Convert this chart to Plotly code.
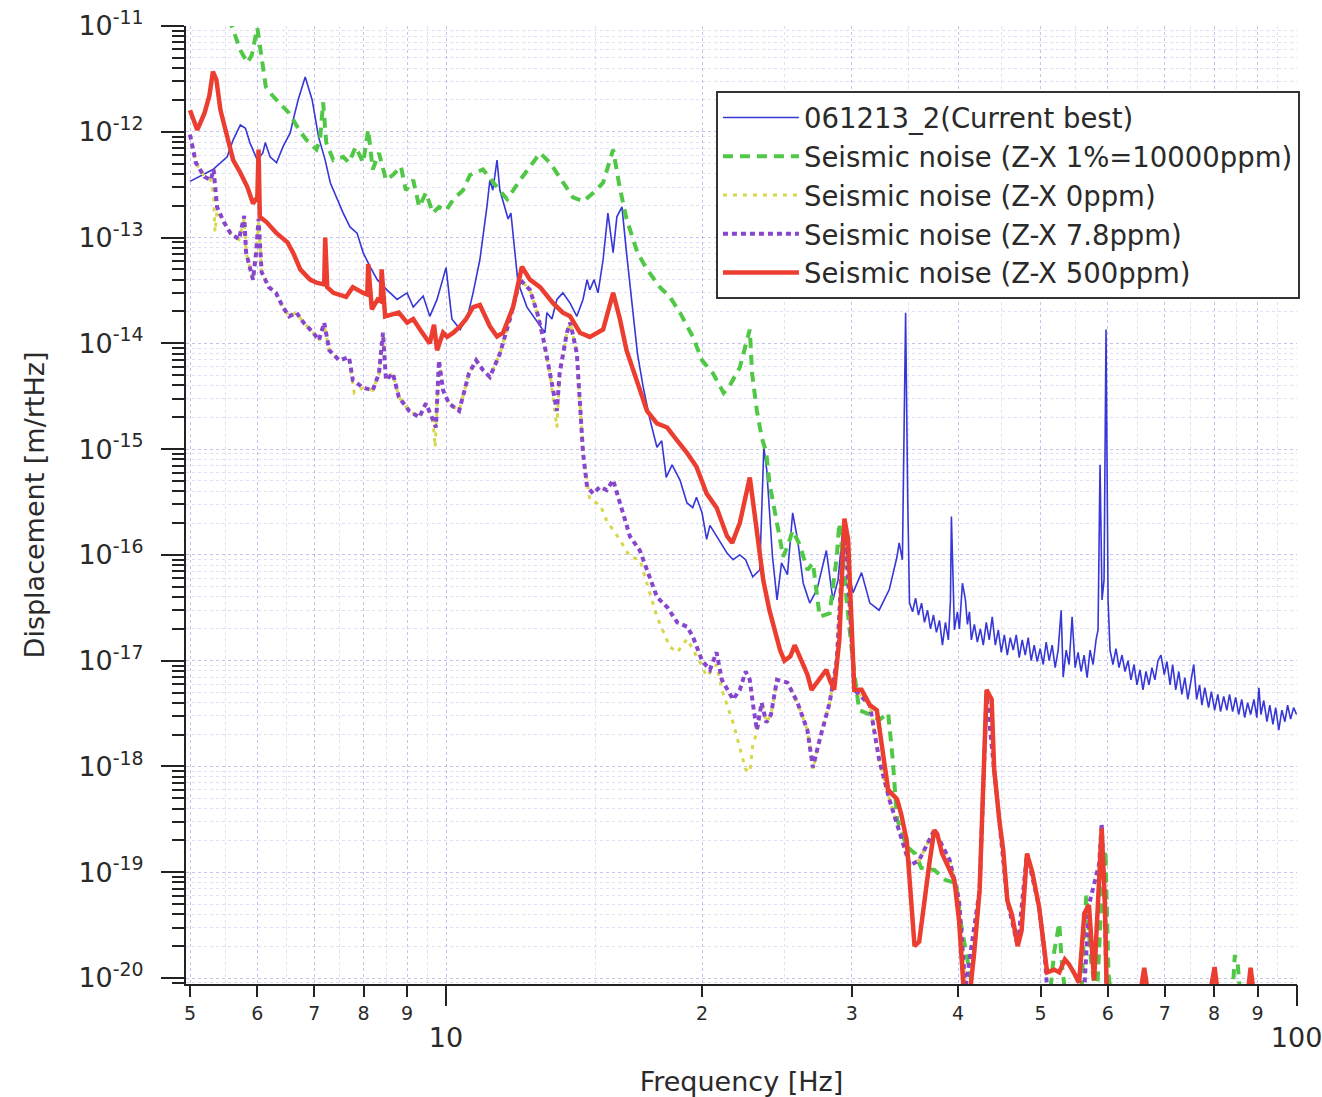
import math
import plotly.graph_objects as go

# ---------------- data ----------------
blue_freq = [5.0, 5.14, 5.32, 5.53, 5.62, 5.73, 5.81, 5.88, 6.0, 6.09,
             6.13, 6.21, 6.32, 6.43, 6.56, 6.61, 6.70, 6.83, 6.96, 7.08,
             7.21, 7.31, 7.45, 7.57, 7.71, 7.86, 7.99, 8.14, 8.30, 8.52,
             8.76, 9.0, 9.15, 9.40, 9.57, 9.76, 10.0, 10.16, 10.39, 10.6,
             10.76, 10.96, 11.17, 11.26, 11.35, 11.48, 11.57, 11.73, 11.83, 11.92,
             12.05, 12.15, 12.45, 12.66, 12.9, 13.07, 13.14, 13.32, 13.5, 13.72,
             13.99, 14.25, 14.49, 14.65, 14.76, 14.93, 15.09, 15.3, 15.5, 15.63,
             15.72, 15.88, 16.1, 16.3, 16.5, 16.79, 17.06, 17.37, 17.7, 17.93,
             18.15, 18.44, 18.84, 19.2, 19.5, 19.7, 20.0, 20.25, 20.43, 20.82,
             21.4, 21.75, 22.15, 22.5, 22.94, 23.38, 23.64, 23.83, 24.2, 24.5,
             24.8, 25.2, 25.56, 25.9, 26.3, 26.77, 27.3, 28.0, 28.5, 28.9,
             29.3, 29.7, 30.1, 30.8, 31.5, 32.3, 33.2, 33.9, 34.1, 34.4,
             34.7, 34.9,
             35.07, 35.36, 35.65, 35.93, 36.23, 36.52, 36.82, 37.12, 37.42, 37.72,
             38.03, 38.34, 38.65, 38.96, 39.18, 39.28, 39.6, 39.92, 40.14, 40.47,
             40.8, 41.02, 41.24, 41.46, 41.8, 42.14, 42.48, 42.82, 43.17, 43.52,
             43.87, 44.24, 44.6, 44.96, 45.33, 45.7, 46.06, 46.44, 46.82, 47.2,
             47.58, 47.97, 48.36, 48.75, 49.15, 49.55, 49.95, 50.36, 50.77, 51.18,
             51.6, 52.02, 52.44, 52.87, 53.16, 53.59, 54.02, 54.46, 54.91, 55.35,
             55.8, 56.26, 56.72, 57.17, 57.64, 58.11, 58.42, 58.74, 59.06, 59.38,
             59.7, 60.03, 60.35, 60.83, 61.33, 61.84, 62.34, 62.85, 63.36, 63.87,
             64.4, 64.92, 65.45, 65.98, 66.52, 67.06, 67.6, 68.15, 68.71, 69.27,
             69.9, 70.4, 71.0, 71.5, 72.1, 72.7, 73.3, 73.9, 74.5, 75.1,
             75.7, 76.3, 76.9, 77.4, 78.0, 78.8, 79.4, 80.1, 80.8, 81.4,
             82.1, 82.8, 83.4, 84.1, 84.8, 85.5, 86.2, 86.9, 87.6, 88.3,
             89.1, 89.8, 90.3, 90.8, 91.5, 92.3, 93.0, 93.8, 94.5, 95.3,
             96.1, 96.9, 97.6, 98.4, 99.2, 100.0]
blue_disp = [3.4e-13, 3.8e-13, 4.4e-13, 5.8e-13, 8.4e-13, 1.16e-12, 1.08e-12, 7.9e-13, 5.4e-13, 6.3e-13,
             7.9e-13, 5.8e-13, 5.1e-13, 7.2e-13, 9.8e-13, 1.29e-12, 2.0e-12, 3.3e-12, 2.0e-12, 9.0e-13,
             5.4e-13, 3.3e-13, 2.3e-13, 1.7e-13, 1.26e-13, 1.1e-13, 7.2e-14, 5.3e-14, 4.0e-14, 3.2e-14,
             2.6e-14, 3.0e-14, 2.2e-14, 2.8e-14, 1.8e-14, 2.6e-14, 5.2e-14, 1.7e-14, 1.35e-14, 1.8e-14,
             3.0e-14, 6.2e-14, 1.95e-13, 3.5e-13, 2.8e-13, 5.4e-13, 2.8e-13, 1.95e-13, 1.5e-13, 1.7e-13,
             7.7e-14, 3.75e-14, 2.2e-14, 1.8e-14, 1.45e-14, 1.26e-14, 1.95e-14, 1.7e-14, 2.6e-14, 3.0e-14,
             2.4e-14, 1.8e-14, 2.6e-14, 4.0e-14, 3.2e-14, 4.0e-14, 3.0e-14, 6.2e-14, 1.7e-13, 1.06e-13,
             7.2e-14, 1.57e-13, 1.95e-13, 7.2e-14, 3.0e-14, 8.0e-15, 3.8e-15, 1.9e-15, 1.04e-15, 1.2e-15,
             5.4e-16, 7.1e-16, 5.1e-16, 3.1e-16, 2.8e-16, 3.5e-16, 2.5e-16, 1.4e-16, 1.9e-16, 1.5e-16,
             1.04e-16, 9.0e-17, 1.0e-16, 9.0e-17, 6.2e-17, 7.2e-17, 1.04e-15, 6.3e-16, 9.6e-17, 3.75e-17,
             8.4e-17, 6.5e-17, 2.5e-16, 1.4e-16, 5.4e-17, 3.5e-17, 4.7e-17, 1.1e-16, 3.75e-17, 5.8e-17,
             1.9e-16, 7.2e-17, 4.4e-17, 6.8e-17, 3.5e-17, 3.0e-17, 4.7e-17, 9.6e-17, 1.3e-16, 9.0e-17,
             1.95e-14, 3.3e-16,
             3.5e-17, 2.9e-17, 3.9e-17, 2.7e-17, 3.5e-17, 2.3e-17, 3.0e-17, 2.0e-17, 2.7e-17, 1.85e-17,
             2.4e-17, 1.4e-17, 2.3e-17, 1.57e-17, 3.75e-17, 2.3e-16, 1.95e-17, 2.9e-17, 2.0e-17, 5.4e-17,
             3.75e-17, 2.2e-17, 2.9e-17, 1.57e-17, 2.2e-17, 1.5e-17, 2.0e-17, 1.4e-17, 2.3e-17, 1.57e-17,
             2.6e-17, 1.4e-17, 1.95e-17, 1.2e-17, 1.75e-17, 1.13e-17, 1.65e-17, 1.26e-17, 1.75e-17, 1.07e-17,
             1.57e-17, 1.13e-17, 1.65e-17, 1.0e-17, 1.4e-17, 9.8e-18, 1.3e-17, 9.2e-18, 1.5e-17, 1.0e-17,
             1.4e-17, 8.6e-18, 1.26e-17, 3.0e-17, 7.0e-18, 1.26e-17, 9.2e-18, 2.6e-17, 8.6e-18, 1.2e-17,
             7.9e-18, 1.13e-17, 6.9e-18, 1.26e-17, 9.2e-18, 1.57e-17, 1.95e-17, 7.1e-16, 3.75e-17, 5.8e-17,
             1.35e-14, 3.75e-17, 1.26e-17, 9.2e-18, 1.3e-17, 8.6e-18, 1.13e-17, 7.9e-18, 1.0e-17, 6.6e-18,
             9.2e-18, 5.9e-18, 8.2e-18, 5.3e-18, 7.9e-18, 5.9e-18, 8.6e-18, 6.6e-18, 1.0e-17, 1.13e-17,
             7.4e-18, 9.8e-18, 5.9e-18, 9.2e-18, 5.3e-18, 7.9e-18, 4.8e-18, 6.9e-18, 4.3e-18, 6.3e-18,
             9.2e-18, 4.3e-18, 5.9e-18, 3.8e-18, 5.55e-18, 3.6e-18, 5.1e-18, 3.4e-18, 4.8e-18, 3.3e-18,
             4.6e-18, 3.4e-18, 4.8e-18, 3.3e-18, 4.5e-18, 3.1e-18, 4.3e-18, 2.9e-18, 4.0e-18, 3.1e-18,
             4.3e-18, 2.9e-18, 5.55e-18, 3.1e-18, 4.2e-18, 2.65e-18, 3.8e-18, 2.5e-18, 3.6e-18, 2.2e-18,
             3.4e-18, 2.65e-18, 3.8e-18, 2.8e-18, 3.6e-18, 3.1e-18]

green_freq = [5.0, 5.4, 5.6, 5.73, 5.84, 5.91, 6.0, 6.03, 6.14, 6.25,
              6.36, 6.54, 6.72, 6.85, 7.04, 7.11, 7.17, 7.23, 7.37, 7.57,
              7.69, 7.83, 7.99, 8.1, 8.2, 8.34, 8.5, 8.66, 8.85, 8.97,
              9.15, 9.3, 9.47, 9.65, 9.81, 10.0, 10.2, 10.47, 10.67, 11.05,
              11.48, 11.8, 12.22, 12.55, 12.9, 13.25, 13.72, 14.1, 14.5, 14.9,
              15.3, 15.72, 16.0, 16.3, 16.79, 17.23, 17.84, 18.33, 18.84, 19.5,
              20.0, 20.6, 21.2, 21.56, 22.15, 22.76, 22.9, 23.2, 23.5, 23.8,
              24.0, 24.5, 24.7, 24.9, 25.2, 25.56, 26.05, 26.6, 27.0, 27.5,
              28.25, 28.8, 29.0, 29.3, 29.6, 30.1, 30.6, 31.5, 32.3, 33.1,
              33.5, 33.9, 34.8, 35.6, 36.2, 37.5, 38.7, 39.8, 40.3, 40.9,
              41.4, 41.9, 51.2, 51.9, 52.6, 53.0, 53.6, 55.8, 56.3, 56.6,
              57.3, 58.2, 59.2, 59.6, 60.1, 60.6, 84.0, 84.6, 85.3, 86.0,
              100.0]
green_disp = [2.5e-11, 1.4e-11, 1.0e-11, 5.9e-12, 4.5e-12, 5.3e-12, 9.6e-12, 7.4e-12, 2.65e-12, 2.2e-12,
              1.9e-12, 1.5e-12, 1.04e-12, 8.4e-13, 6.8e-13, 8.4e-13, 1.9e-12, 7.9e-13, 5.4e-13, 5.8e-13,
              5.1e-13, 7.2e-13, 5.1e-13, 1.05e-12, 4.4e-13, 6.3e-13, 3.5e-13, 3.9e-13, 4.7e-13, 2.8e-13,
              3.5e-13, 1.95e-13, 2.65e-13, 1.7e-13, 1.95e-13, 1.8e-13, 2.3e-13, 2.8e-13, 3.9e-13, 4.4e-13,
              3.0e-13, 2.3e-13, 3.5e-13, 4.7e-13, 6.3e-13, 5.1e-13, 3.3e-13, 2.4e-13, 2.2e-13, 2.65e-13,
              3.3e-13, 6.8e-13, 3.0e-13, 1.5e-13, 7.2e-14, 5.0e-14, 3.4e-14, 2.75e-14, 1.95e-14, 1.16e-14,
              6.9e-15, 5.2e-15, 3.4e-15, 4.0e-15, 5.9e-15, 1.35e-14, 5.2e-15, 2.3e-15, 1.3e-15, 9.2e-16,
              4.8e-16, 2.1e-16, 1.4e-16, 9.6e-17, 1.2e-16, 1.7e-16, 1.25e-16, 7.2e-17, 8.4e-17, 2.6e-17,
              2.8e-17, 9.6e-17, 2.0e-16, 9.0e-17, 3.5e-17, 9.6e-18, 3.4e-18, 3.1e-18, 2.75e-18, 3.2e-18,
              1.2e-18, 3.2e-19, 1.75e-19, 1.5e-19, 1.1e-19, 1.05e-19, 8.4e-20, 7.9e-20, 3.3e-20, 1.7e-20,
              1.07e-20, 6.0e-21, 6.0e-21, 1.8e-20, 3.3e-20, 1.3e-20, 6.0e-21, 6.0e-21, 3.3e-20, 6.0e-20,
              1.5e-20, 6.0e-21, 1.05e-19, 1.6e-19, 1.1e-20, 6.0e-21, 6.0e-21, 1.65e-20, 1.3e-20, 6.0e-21,
              6.0e-21]

yellow_freq = [5.0, 5.04, 5.08, 5.2, 5.29, 5.33, 5.35, 5.38, 5.48, 5.58,
               5.71, 5.79, 5.82, 5.93, 5.98, 6.02, 6.07, 6.19, 6.31, 6.43,
               6.54, 6.67, 6.8, 6.98, 7.09, 7.19, 7.29, 7.49, 7.69, 7.8,
               7.99, 8.2, 8.34, 8.43, 8.5, 8.66, 8.8, 9.05, 9.3, 9.47,
               9.65, 9.71, 9.81, 9.92, 10.08, 10.36, 10.64, 10.85, 11.05, 11.26,
               11.57, 11.89, 12.22, 12.55, 12.8, 13.0, 13.25, 13.5, 13.6, 13.87,
               14.0, 14.25, 14.37, 14.49, 14.76, 15.17, 15.45, 16.0, 16.45, 16.9,
               17.7, 18.33, 18.7, 19.2, 19.9, 20.25, 20.8, 21.1, 21.75, 22.15,
               22.5, 22.76, 22.94, 23.2, 23.5, 23.8, 24.1, 24.5, 25.2, 25.9,
               26.6, 27.0, 27.5, 28.25, 28.8, 29.3, 29.4, 29.8, 30.2, 31.5,
               32.3, 33.2, 34.1, 35.1, 36.0, 37.5, 39.1, 40.1, 40.8, 100.0]
yellow_disp = [9.4e-13, 6.8e-13, 5.1e-13, 3.75e-13, 3.5e-13, 2.5e-13, 1.13e-13, 1.8e-13, 1.4e-13, 1.1e-13,
               9.6e-14, 1.5e-13, 7.2e-14, 4.0e-14, 7.2e-14, 1.4e-13, 4.7e-14, 3.4e-14, 3.0e-14, 2.2e-14,
               1.8e-14, 1.95e-14, 1.57e-14, 1.26e-14, 1.07e-14, 1.5e-14, 8.6e-15, 6.9e-15, 7.4e-15, 3.4e-15,
               3.8e-15, 3.6e-15, 5.2e-15, 1.2e-14, 4.5e-15, 5.2e-15, 3.1e-15, 2.3e-15, 2.0e-15, 2.7e-15,
               1.9e-15, 1.04e-15, 6.5e-15, 3.6e-15, 2.7e-15, 2.3e-15, 5.2e-15, 6.9e-15, 5.6e-15, 4.8e-15,
               8.0e-15, 1.7e-14, 4.0e-14, 3.2e-14, 1.95e-14, 1.15e-14, 5.2e-15, 1.6e-15, 5.2e-15, 1.26e-14,
               1.57e-14, 8.0e-15, 2.7e-15, 9.2e-16, 3.3e-16, 3.0e-16, 2.1e-16, 1.4e-16, 9.6e-17, 9.0e-17,
               2.6e-17, 1.35e-17, 1.2e-17, 1.6e-17, 9.6e-18, 7.1e-18, 9.2e-18, 5.3e-18, 2.6e-18, 1.55e-18,
               9.4e-19, 8.8e-19, 1.6e-18, 2.1e-18, 4.0e-18, 2.6e-18, 3.1e-18, 6.6e-18, 6.2e-18, 4.0e-18,
               2.2e-18, 9.4e-19, 1.8e-18, 4.0e-18, 1.0e-17, 1.4e-16, 2.1e-16, 3.75e-17, 5.3e-18, 3.8e-18,
               1.16e-18, 4.9e-19, 2.5e-19, 1.16e-19, 1.3e-19, 2.5e-19, 1.3e-19, 5.4e-20, 8.0e-21, 8.0e-21]

purple_freq = [5.0, 5.04, 5.08, 5.2, 5.29, 5.33, 5.38, 5.48, 5.58, 5.71,
               5.79, 5.82, 5.93, 5.98, 6.02, 6.07, 6.19, 6.31, 6.43, 6.54,
               6.67, 6.8, 6.98, 7.09, 7.19, 7.29, 7.49, 7.69, 7.77, 7.99,
               8.2, 8.34, 8.43, 8.5, 8.66, 8.8, 9.05, 9.3, 9.47, 9.65,
               9.73, 9.81, 9.92, 10.08, 10.36, 10.64, 10.85, 11.05, 11.26, 11.57,
               11.89, 12.22, 12.55, 12.8, 13.0, 13.25, 13.5, 13.6, 13.87, 14.0,
               14.25, 14.37, 14.49, 14.65, 14.9, 15.17, 15.45, 15.72, 16.0, 16.45,
               16.9, 17.23, 17.7, 18.2, 18.7, 19.2, 19.5, 20.0, 20.43, 20.8,
               21.1, 21.75, 22.15, 22.5, 22.76, 22.94, 23.2, 23.5, 23.8, 24.1,
               24.5, 25.2, 25.9, 26.6, 27.0, 27.5, 28.25, 28.8, 29.3, 29.4,
               29.8, 30.2, 31.5, 32.3, 33.2, 34.1, 35.1, 36.0, 37.5, 39.1,
               40.1, 40.8, 42.4, 43.2, 44.1, 44.7, 45.7, 47.0, 48.2, 49.8,
               50.5, 50.9, 56.3, 57.0, 58.6, 59.0, 59.5, 59.8, 100.0]
purple_disp = [9.4e-13, 6.8e-13, 5.1e-13, 3.75e-13, 3.5e-13, 4.4e-13, 1.95e-13, 1.4e-13, 1.1e-13, 9.6e-14,
               1.6e-13, 7.2e-14, 4.0e-14, 7.2e-14, 1.5e-13, 4.7e-14, 3.4e-14, 3.0e-14, 2.2e-14, 1.8e-14,
               1.95e-14, 1.57e-14, 1.26e-14, 1.07e-14, 1.57e-14, 8.6e-15, 6.9e-15, 7.4e-15, 4.5e-15, 3.8e-15,
               3.6e-15, 5.2e-15, 1.26e-14, 4.5e-15, 5.2e-15, 3.1e-15, 2.3e-15, 2.0e-15, 2.7e-15, 1.9e-15,
               1.6e-15, 6.9e-15, 3.6e-15, 2.7e-15, 2.3e-15, 5.2e-15, 6.9e-15, 5.6e-15, 4.8e-15, 8.0e-15,
               1.7e-14, 4.0e-14, 3.2e-14, 1.95e-14, 1.15e-14, 5.2e-15, 2.3e-15, 5.2e-15, 1.26e-14, 1.57e-14,
               8.0e-15, 2.7e-15, 9.2e-16, 4.4e-16, 3.8e-16, 4.4e-16, 4.1e-16, 5.1e-16, 3.1e-16, 1.5e-16,
               1.1e-16, 7.2e-17, 4.0e-17, 3.2e-17, 2.3e-17, 2.1e-17, 1.7e-17, 1.0e-17, 8.2e-18, 1.2e-17,
               6.6e-18, 4.3e-18, 5.3e-18, 7.9e-18, 6.6e-18, 4.0e-18, 2.2e-18, 4.0e-18, 2.6e-18, 3.1e-18,
               6.6e-18, 6.2e-18, 4.0e-18, 2.2e-18, 9.8e-19, 1.8e-18, 4.0e-18, 1.0e-17, 1.4e-16, 2.1e-16,
               3.75e-17, 5.3e-18, 3.8e-18, 1.16e-18, 4.9e-19, 2.5e-19, 1.16e-19, 1.3e-19, 2.5e-19, 1.3e-19,
               5.4e-20, 8.0e-21, 6.8e-20, 4.8e-18, 9.4e-19, 3.0e-19, 5.4e-20, 2.0e-20, 1.5e-19, 4.7e-20,
               1.9e-20, 8.0e-21, 8.0e-21, 4.9e-20, 1.2e-19, 2.9e-19, 5.4e-20, 7.0e-21, 7.0e-21]

red_freq = [5.0, 5.1, 5.2, 5.27, 5.32, 5.37, 5.43, 5.53, 5.62, 5.73,
            5.84, 5.93, 6.0, 6.02, 6.04, 6.15, 6.32, 6.51, 6.61, 6.74,
            6.92, 7.04, 7.19, 7.21, 7.25, 7.37, 7.63, 7.77, 7.86, 7.99,
            8.08, 8.1, 8.18, 8.31, 8.38, 8.4, 8.48, 8.8, 9.0, 9.15,
            9.32, 9.57, 9.68, 9.76, 9.92, 10.03, 10.2, 10.39, 10.56, 10.76,
            10.96, 11.26, 11.48, 11.67, 11.99, 12.28, 12.55, 12.9, 13.36, 13.72,
            13.99, 14.37, 14.76, 15.3, 15.72, 16.01, 16.3, 16.79, 17.23, 17.7,
            18.2, 18.7, 19.2, 19.7, 20.25, 20.8, 21.4, 21.7, 22.15, 22.76,
            23.2, 23.6, 24.0, 24.35, 24.7, 25.0, 25.4, 25.7, 26.05, 26.6,
            26.9, 27.5, 28.0, 28.25, 28.6, 29.0, 29.4, 29.7, 29.9, 30.2,
            30.8, 31.5, 32.1, 32.7, 33.1, 33.9, 34.3, 34.8, 35.3, 35.55,
            36.0, 36.5, 37.0, 37.5, 37.8, 38.3, 39.1, 39.6, 40.1, 40.7,
            41.2, 41.8, 42.4, 42.9, 43.2, 43.8, 44.1, 44.7, 45.2, 45.7,
            46.3, 47.0, 47.5, 48.2, 48.9, 49.8, 50.5, 50.9, 51.9, 52.6,
            53.4, 54.0, 54.9, 55.5, 56.3, 57.0, 57.8, 58.6, 59.0, 59.5,
            59.8, 61.8, 65.3, 66.2, 67.1, 78.8, 80.1, 81.0, 87.4, 88.3,
            89.3, 100.0]
red_disp = [1.6e-12, 1.04e-12, 1.5e-12, 2.2e-12, 3.7e-12, 3.1e-12, 1.6e-12, 9.0e-13, 5.4e-13, 4.1e-13,
            3.0e-13, 2.1e-13, 2.4e-13, 6.8e-13, 1.57e-13, 1.4e-13, 1.1e-13, 9.0e-14, 7.2e-14, 5.0e-14,
            4.0e-14, 3.75e-14, 3.6e-14, 1.0e-13, 3.4e-14, 3.0e-14, 2.75e-14, 3.4e-14, 3.2e-14, 3.0e-14,
            2.9e-14, 5.6e-14, 2.1e-14, 2.6e-14, 2.5e-14, 5.0e-14, 1.8e-14, 1.95e-14, 1.57e-14, 1.7e-14,
            1.35e-14, 1.0e-14, 1.5e-14, 8.6e-15, 1.26e-14, 1.15e-14, 1.26e-14, 1.45e-14, 1.7e-14, 2.2e-14,
            2.3e-14, 1.45e-14, 1.16e-14, 1.26e-14, 2.2e-14, 5.3e-14, 4.0e-14, 3.4e-14, 2.4e-14, 1.95e-14,
            1.8e-14, 1.26e-14, 1.15e-14, 1.35e-14, 3.0e-14, 1.7e-14, 8.6e-15, 4.2e-15, 2.3e-15, 1.75e-15,
            1.6e-15, 1.2e-15, 9.2e-16, 6.8e-16, 3.8e-16, 2.8e-16, 1.5e-16, 1.3e-16, 2.0e-16, 5.4e-16,
            1.6e-16, 5.8e-17, 3.0e-17, 1.95e-17, 1.26e-17, 1.0e-17, 1.1e-17, 1.4e-17, 1.1e-17, 7.4e-18,
            5.3e-18, 6.6e-18, 8.2e-18, 6.6e-18, 5.3e-18, 1.57e-17, 2.2e-16, 1.4e-16, 3.75e-17, 5.3e-18,
            5.3e-18, 3.8e-18, 3.4e-18, 1.3e-18, 6.0e-19, 4.9e-19, 3.5e-19, 2.0e-19, 3.5e-20, 2.0e-20,
            2.2e-20, 5.4e-20, 1.2e-19, 2.5e-19, 2.3e-19, 1.5e-19, 1.05e-19, 8.4e-20, 3.5e-20, 6.0e-21,
            6.0e-21, 1.8e-20, 6.8e-20, 1.16e-18, 5.3e-18, 4.3e-18, 9.4e-19, 3.2e-19, 1.6e-19, 5.4e-20,
            3.9e-20, 2.0e-20, 2.8e-20, 1.5e-19, 1.0e-19, 4.7e-20, 1.95e-20, 1.13e-20, 1.2e-20, 1.13e-20,
            1.5e-20, 1.35e-20, 1.07e-20, 9.0e-21, 4.1e-20, 4.9e-20, 9.5e-21, 1.13e-19, 2.6e-19, 5.4e-20,
            7.7e-21, 6.0e-21, 6.0e-21, 1.25e-20, 6.0e-21, 6.0e-21, 1.27e-20, 6.0e-21, 6.0e-21, 1.25e-20,
            6.0e-21, 6.0e-21]

series_names = ["061213_2(Current best)",
                "Seismic noise (Z-X 1%=10000ppm)",
                "Seismic noise (Z-X 0ppm)",
                "Seismic noise (Z-X 7.8ppm)",
                "Seismic noise (Z-X 500ppm)"]

x_tick_vals = [5, 6, 7, 8, 9, 20, 30, 40, 50, 60, 70, 80, 90]
x_tick_text = ["5", "6", "7", "8", "9", "2", "3", "4", "5", "6", "7", "8", "9"]
x_major_vals = [10, 100]
x_major_text = ["10", "100"]
y_exponents = list(range(-20, -10))

# ---------------- styling ----------------
FONT = "DejaVu Sans"
TXT = "#2a2a2a"
GRID = "rgba(125,125,215,0.45)"
GRID_MINOR = "rgba(150,150,225,0.30)"

fig = go.Figure()
fig.add_trace(go.Scatter(x=blue_freq, y=blue_disp, name=series_names[0], mode="lines",
                         line=dict(color="rgb(55,55,215)", width=1.6)))
fig.add_trace(go.Scatter(x=green_freq, y=green_disp, name=series_names[1], mode="lines",
                         line=dict(color="rgb(80,200,70)", width=4, dash="10px,7px")))
fig.add_trace(go.Scatter(x=yellow_freq, y=yellow_disp, name=series_names[2], mode="lines",
                         line=dict(color="rgb(215,215,75)", width=3, dash="4px,6px")))
fig.add_trace(go.Scatter(x=purple_freq, y=purple_disp, name=series_names[3], mode="lines",
                         line=dict(color="rgb(135,70,205)", width=4, dash="5px,4px")))
fig.add_trace(go.Scatter(x=red_freq, y=red_disp, name=series_names[4], mode="lines",
                         line=dict(color="rgb(235,62,48)", width=4.5)))
# helper trace so the second (major-tick) x axis is drawn
fig.add_trace(go.Scatter(x=x_major_vals, y=[1e-30, 1e-30], xaxis="x2", yaxis="y",
                         mode="lines", line=dict(width=0), showlegend=False, hoverinfo="skip"))

x_range = [math.log10(5) - 4 / 851, 2.0005]
y_range = [-20 - 6 / 105.8, -11]

minor_x = [5.5, 6.5, 7.5, 8.5, 9.5, 15, 25, 35, 45, 55, 65, 75, 85, 95]
minor_y = [m * 10.0 ** e for e in range(-21, -10) for m in range(2, 10)]

fig.update_layout(
    width=1322, height=1097,
    margin=dict(l=186, r=25, t=26, b=113, autoexpand=False),
    paper_bgcolor="white", plot_bgcolor="white",
    font=dict(family=FONT, color=TXT),
    showlegend=True,
    legend=dict(x=0.477, y=0.932, xanchor="left", yanchor="top",
                bgcolor="white", bordercolor="#333", borderwidth=2,
                font=dict(family=FONT, size=27.5, color=TXT),
                itemwidth=76, tracegroupgap=0),
    xaxis=dict(type="log", range=x_range, tickmode="array", automargin=False,
               tickvals=x_tick_vals, ticktext=x_tick_text,
               ticks="outside", ticklen=11, tickwidth=2, tickcolor="#222",
               tickfont=dict(family=FONT, size=19, color=TXT),
               ticklabeloverflow="allow",
               showline=True, linewidth=2, linecolor="#222", mirror=False,
               showgrid=True, gridcolor=GRID, griddash="dot", gridwidth=1,
               zeroline=False,
               minor=dict(tickmode="array", tickvals=minor_x, ticks="",
                          showgrid=True, gridcolor=GRID_MINOR, griddash="dot"),
               title=dict(text="Frequency [Hz]", font=dict(family=FONT, size=27, color=TXT),
                          standoff=49)),
    xaxis2=dict(type="log", range=x_range, overlaying="x", anchor="y", side="bottom",
                automargin=False,
                tickmode="array", tickvals=x_major_vals, ticktext=x_major_text,
                ticks="outside", ticklen=21, tickwidth=2, tickcolor="#222",
                tickfont=dict(family=FONT, size=27, color=TXT),
                ticklabelstandoff=9, ticklabeloverflow="allow",
                showline=False, showgrid=True, gridcolor=GRID, griddash="dot",
                zeroline=False),
    yaxis=dict(type="log", range=y_range, tickmode="array", automargin=False,
               tickvals=[10.0 ** e for e in y_exponents],
               ticktext=["10<sup>%d</sup>" % e for e in y_exponents],
               ticks="outside", ticklen=23, tickwidth=2, tickcolor="#222",
               tickfont=dict(family=FONT, size=27, color=TXT),
               ticklabelstandoff=12, ticklabeloverflow="allow",
               showline=True, linewidth=2, linecolor="#222", mirror=False,
               showgrid=True, gridcolor=GRID, griddash="dot", gridwidth=1,
               zeroline=False,
               minor=dict(tickmode="array", tickvals=minor_y, ticks="outside",
                          ticklen=12, tickwidth=1.5, tickcolor="#222",
                          showgrid=True, gridcolor=GRID_MINOR, griddash="dot"),
               title=dict(text="Displacement [m/rtHz]", font=dict(family=FONT, size=27, color=TXT),
                          standoff=26)),
)

fig.write_html("out.html")
